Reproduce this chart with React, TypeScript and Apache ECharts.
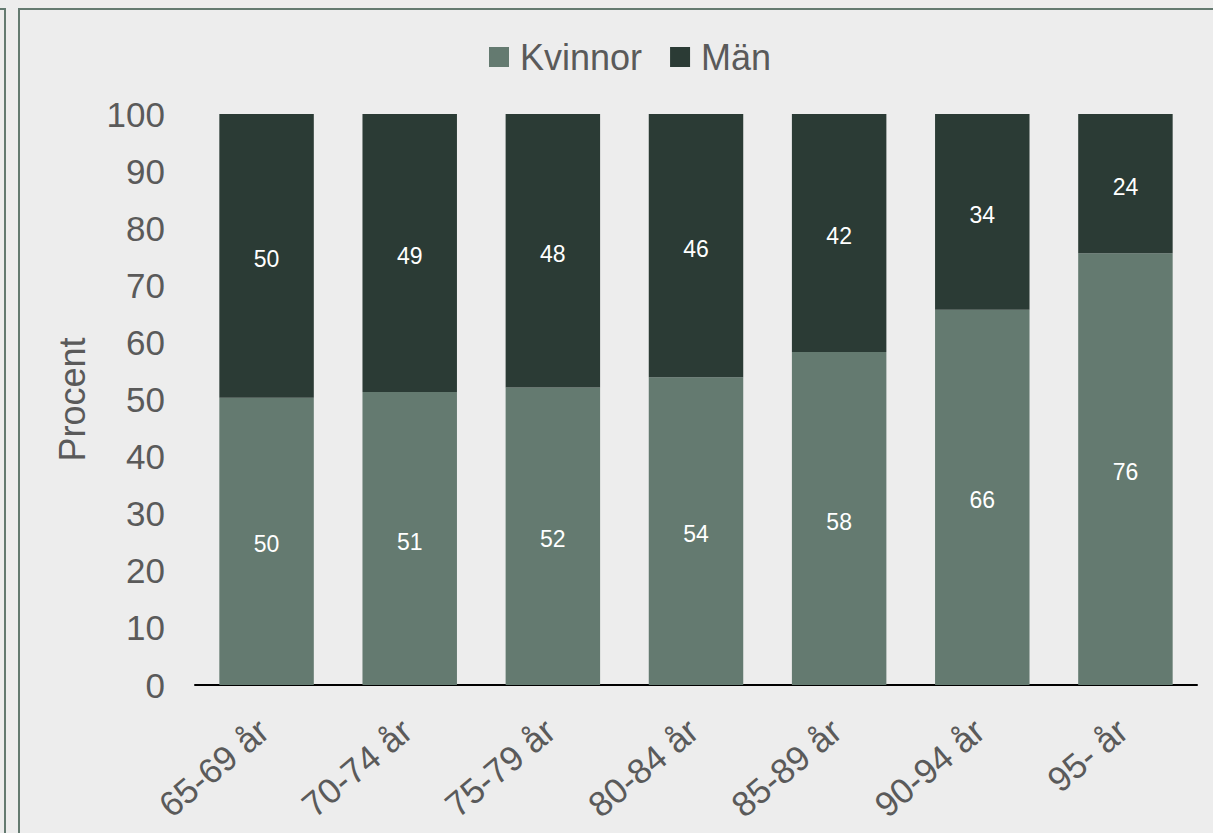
import React, { useEffect, useRef } from "react";
import * as echarts from "echarts";

const categories = ["65-69 år", "70-74 år", "75-79 år", "80-84 år", "85-89 år", "90-94 år", "95- år"];
const kvinnor = [50.3, 51.3, 52.1, 53.9, 58.3, 65.7, 75.6];
const man = [49.7, 48.7, 47.9, 46.1, 41.7, 34.3, 24.4];
const yTicks = { min: 0, max: 100, interval: 10 };

const FONT = "'Liberation Sans', Arial, sans-serif";
const GREY = "#5a5a5a";
const FRAME = "#647a70";

export default function App() {
  const ref = useRef<HTMLDivElement>(null);
  useEffect(() => {
    if (!ref.current) return;
    const chart = echarts.init(ref.current, null, { renderer: "svg" });
    const label = {
      show: true,
      position: "inside",
      color: "#ffffff",
      fontSize: 23,
      fontFamily: FONT,
      offset: [0, 3],
      formatter: (p: any) => String(Math.round(p.value)),
    };
    chart.setOption({
      animation: false,
      backgroundColor: "#ededed",
      textStyle: { fontFamily: FONT },
      graphic: [
        { type: "rect", shape: { x: 0, y: 8, width: 6, height: 2 }, style: { fill: FRAME } },
        { type: "rect", shape: { x: 4, y: 8, width: 2, height: 830 }, style: { fill: FRAME } },
        { type: "rect", shape: { x: 18, y: 8, width: 2, height: 830 }, style: { fill: FRAME } },
        { type: "rect", shape: { x: 18, y: 8, width: 1200, height: 2 }, style: { fill: FRAME } },
      ],
      legend: {
        left: 484,
        top: 34,
        itemWidth: 20,
        itemHeight: 20,
        itemGap: 28,
        icon: "rect",
        textStyle: { fontSize: 36, color: GREY, fontFamily: FONT, padding: [0, 0, 0, 6] },
        data: ["Kvinnor", "Män"],
      },
      grid: { left: 195, right: 16, top: 114, bottom: 148 },
      xAxis: {
        type: "category",
        data: categories,
        axisLine: { show: true, lineStyle: { color: "#000000", width: 2 } },
        axisTick: { show: false },
        axisLabel: {
          interval: 0,
          rotate: 40,
          margin: 38,
          fontSize: 35,
          color: GREY,
          fontFamily: FONT,
          padding: [0, 4, 0, 0],
        },
      },
      yAxis: {
        type: "value",
        min: yTicks.min,
        max: yTicks.max,
        interval: yTicks.interval,
        name: "Procent",
        nameLocation: "middle",
        nameGap: 105,
        nameRotate: 90,
        nameTextStyle: { fontSize: 36, color: GREY, fontFamily: FONT },
        axisLine: { show: false },
        axisTick: { show: false },
        splitLine: { show: false },
        axisLabel: { margin: 30, fontSize: 35, color: GREY, fontFamily: FONT },
      },
      series: [
        {
          name: "Kvinnor",
          type: "bar",
          stack: "total",
          data: kvinnor,
          barCategoryGap: "34%",
          itemStyle: { color: "#647a70" },
          label,
        },
        {
          name: "Män",
          type: "bar",
          stack: "total",
          data: man,
          barCategoryGap: "34%",
          itemStyle: { color: "#2b3b35" },
          label,
        },
      ],
    });
    return () => chart.dispose();
  }, []);
  return (
    <div
      ref={ref}
      style={{ position: "fixed", left: 0, top: 0, width: 1213, height: 833 }}
    />
  );
}
